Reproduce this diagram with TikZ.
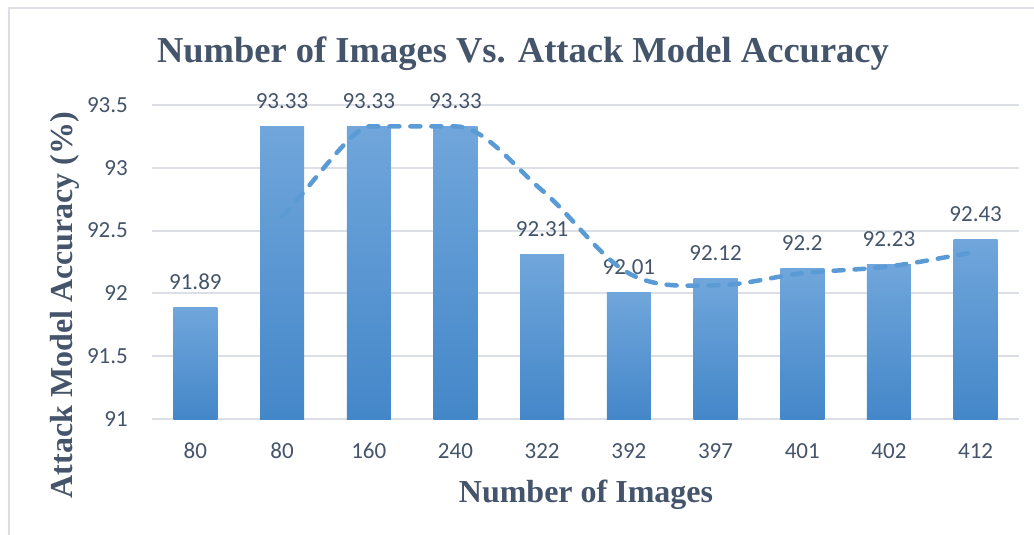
\documentclass[tikz,border=0pt]{standalone}
\usepackage{fontspec}
\setmainfont{Liberation Serif}
\newfontfamily\numfont{Carlito}
\definecolor{txt}{HTML}{44546A}
\definecolor{gridc}{HTML}{DCE0E6}
\definecolor{framec}{HTML}{DCE0E6}
\definecolor{bartop}{HTML}{70A6DB}
\definecolor{barmid}{HTML}{589BDD}
\definecolor{barbot}{HTML}{4487C9}
\definecolor{trendc}{HTML}{5B9BD5}
\tikzset{
  gridline/.style={draw=gridc, line width=2pt},
  barbox/.style={shade, top color=bartop, middle color=barmid, bottom color=barbot, draw=none},
  numlabel/.style={font=\numfont\fontsize{23}{27}\selectfont, text=txt, inner sep=0pt},
  axtitle/.style={font=\bfseries\fontsize{32}{38}\selectfont, text=txt, inner sep=0pt},
  charttitle/.style={font=\bfseries\fontsize{36.5}{42}\selectfont, text=txt, inner sep=0pt},
  trendline/.style={draw=trendc, line width=4.5pt, dash pattern=on 10pt off 11pt, line cap=round}
}
\begin{document}
\begin{tikzpicture}[x=1pt,y=-1pt]
\useasboundingbox (0,0) rectangle (1034,535);
\fill[white] (0,0) rectangle (1034,535);
% frame
\draw[framec, line width=1.5pt] (9,535) -- (9,8) -- (1034,8);
% title
\node[charttitle, anchor=base] (title) at (523,63) {Number of Images Vs. Attack Model Accuracy};
% gridlines and y tick labels
\foreach \v [count=\k from 0] in {91,91.5,92,92.5,93,93.5} {
  \pgfmathsetmacro{\yy}{419-\k*62.8}
  \draw[gridline] (152,\yy) -- (1019,\yy);
  \node[numlabel, anchor=base east] (yt\k) at (128,\yy+7.2) {\v};
}
% bars
\foreach \lab/\val [count=\i] in {80/91.89,80/93.33,160/93.33,240/93.33,322/92.31,392/92.01,397/92.12,401/92.2,402/92.23,412/92.43} {
  \pgfmathsetmacro{\cx}{152+86.7*(\i-0.5)}
  \pgfmathsetmacro{\yt}{419-(\val-91)*125.6}
  \path[barbox] (\cx-22,\yt) rectangle (\cx+22,419);
  \node[numlabel, anchor=base] (v\i) at (\cx,\yt-18) {\val};
  \node[numlabel, anchor=base] (x\i) at (\cx,458) {\lab};
}
% trend line (2-period moving average)
\coordinate (p1) at (282.05,216.78);
\coordinate (p2) at (368.75,126.35);
\coordinate (p3) at (455.45,126.35);
\coordinate (p4) at (542.15,190.41);
\coordinate (p5) at (628.85,273.30);
\coordinate (p6) at (715.55,285.24);
\coordinate (p7) at (802.25,273.30);
\coordinate (p8) at (888.95,266.40);
\coordinate (p9) at (975.65,251.95);
\draw[trendline] (p1) .. controls (310.7,187.0) and (352.75,126.35) .. (p2)
  -- (p3)
  .. controls (484.35,126.35) and (513.25,165.92) .. (p4)
  .. controls (571.05,214.9) and (599.95,257.5) .. (p5)
  .. controls (657.75,289.1) and (686.65,285.24) .. (p6)
  .. controls (744.45,285.24) and (773.35,276.44) .. (p7)
  .. controls (831.15,270.16) and (860.05,269.96) .. (p8)
  .. controls (917.85,262.84) and (946.75,256.75) .. (p9);
% axis titles
\node[axtitle, anchor=base] (xtitle) at (586,502) {Number of Images};
\node[axtitle, anchor=base, rotate=90] (ytitle) at (72,305) {Attack Model Accuracy (\%)};
\end{tikzpicture}
\end{document}
